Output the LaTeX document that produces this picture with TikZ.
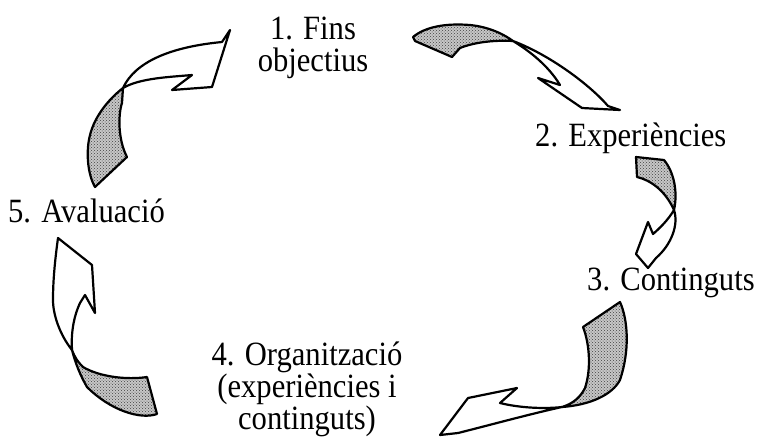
\documentclass[tikz,border=0pt]{standalone}
\usepackage{fontspec}
\usetikzlibrary{patterns}
\setmainfont{Liberation Serif}
\newfontfamily\lblfont[FakeStretch=0.9]{Liberation Serif}
\begin{document}
\begin{tikzpicture}[x=1pt,y=-1pt,
  ribbon/.style={draw=black,line width=2.2pt,line join=round,fill=white},
  ribbonback/.style={draw=black,line width=2.2pt,line join=round,
    preaction={fill=black!22},pattern=crosshatch dots,pattern color=black!75},
  lbl/.style={inner sep=0pt,font=\lblfont\fontsize{34}{32}\selectfont}]
\fill[white] (0,0) rectangle (762,437);
\useasboundingbox (0,0) rectangle (762,437);
% labels (base anchor of a multi-line node = baseline of its last line)
\node[lbl,anchor=base,align=center] (n1) at (313,71) {1. Fins\\objectius};
\node[lbl,anchor=base west] (n2) at (535,146) {2. Experiències};
\node[lbl,anchor=base west] (n3) at (587,290) {3. Continguts};
\node[lbl,anchor=base,align=center] (n4) at (307,429) {4. Organització\\(experiències i\\continguts)};
\node[lbl,anchor=base west] (n5) at (8,222) {5. Avaluació};
% arrow 1 -> 2
\filldraw[ribbonback] (413,37) .. controls (425,27) and (445,23) .. (470,25)
  .. controls (490,27) and (505,35) .. (513,41)
  .. controls (495,40) and (475,42) .. (460,48) -- (452,57) -- (415,41) -- cycle;
\filldraw[ribbon] (513,41) .. controls (528,50) and (548,65) .. (560,85)
  -- (538,78) -- (582,108) -- (620,110) -- (608,106)
  .. controls (590,85) and (550,55) .. (513,41) -- cycle;
% arrow 2 -> 3
\filldraw[ribbonback] (636,157) -- (664,160) .. controls (674,172) and (678,192) .. (674,210)
  .. controls (665,190) and (650,180) .. (637,177) -- cycle;
\filldraw[ribbon] (674,210) .. controls (668,220) and (660,228) .. (653,234)
  -- (648,222) -- (636,254) -- (648,268) -- (656,258)
  .. controls (671,245) and (679,225) .. (674,210) -- cycle;
% arrow 3 -> 4
\filldraw[ribbonback] (620,302) .. controls (628,320) and (630,350) .. (620,380)
  .. controls (612,395) and (590,405) .. (562,407)
  .. controls (572,404) and (580,398) .. (585,388)
  .. controls (591,370) and (590,345) .. (583,327) -- cycle;
\filldraw[ribbon] (562,407) .. controls (545,409) and (520,408) .. (500,403)
  -- (517,388) -- (468,398) -- (440,435) -- (458,433)
  .. controls (490,425) and (530,414) .. (562,407) -- cycle;
% arrow 4 -> 5
\filldraw[ribbonback] (147,377) .. controls (127,380) and (100,377) .. (83,367)
  .. controls (78,362) and (75,358) .. (72,350)
  .. controls (75,362) and (80,375) .. (87,387)
  .. controls (110,410) and (140,420) .. (157,414) -- cycle;
\filldraw[ribbon] (72,350) .. controls (71,335) and (73,318) .. (80,303)
  -- (85,295) -- (95,313) -- (92,265) -- (58,238)
  .. controls (55,260) and (53,280) .. (53,300)
  .. controls (53,315) and (60,335) .. (72,350) -- cycle;
% arrow 5 -> 1
\filldraw[ribbonback] (127,157) .. controls (118,140) and (118,115) .. (122,103) -- (123,88)
  .. controls (110,98) and (95,115) .. (90,135)
  .. controls (86,150) and (87,173) .. (95,187) -- cycle;
\filldraw[ribbon] (123,88) .. controls (135,62) and (170,47) .. (222,42)
  -- (230,30) -- (212,87) -- (172,90) -- (192,75)
  .. controls (170,77) and (140,78) .. (123,88) -- cycle;
\end{tikzpicture}
\end{document}
